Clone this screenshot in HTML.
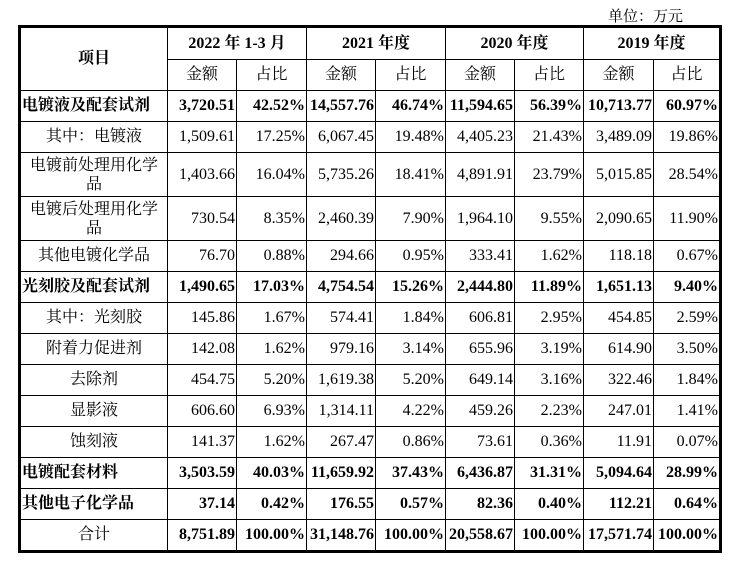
<!DOCTYPE html>
<html><head><meta charset="utf-8"><style>
body{margin:0;width:739px;height:565px;background:#fff;position:relative;font-family:"Liberation Serif","Noto Serif CJK SC",serif;color:#000;overflow:hidden}
.unit{position:absolute;left:608px;top:5px;font-size:15px}
table{position:absolute;left:18px;top:25px;border-collapse:collapse;border:3px solid #000;table-layout:fixed;font-size:16px}
td{border:1px solid #000;padding:0 1px;white-space:nowrap;line-height:18px}
td.n{text-align:right}
td.c{text-align:center}
td.l{text-align:left}
tr.b td{font-weight:bold}
td.w{text-align:center;line-height:19px}
</style></head><body>
<div class="unit">单位：万元</div>
<table>
<colgroup><col style="width:148px"><col style="width:69px"><col style="width:70px"><col style="width:69px"><col style="width:70px"><col style="width:69px"><col style="width:69px"><col style="width:70px"><col style="width:67px"></colgroup>
<tr style="height:33px" class="b"><td rowspan="2" class="c">项目</td><td colspan="2" class="c">2022 年 1-3 月</td><td colspan="2" class="c">2021 年度</td><td colspan="2" class="c">2020 年度</td><td colspan="2" class="c">2019 年度</td></tr>
<tr style="height:31px"><td class="c">金额</td><td class="c">占比</td><td class="c">金额</td><td class="c">占比</td><td class="c">金额</td><td class="c">占比</td><td class="c">金额</td><td class="c">占比</td></tr>
<tr style="height:31px" class="b"><td class="l">电镀液及配套试剂</td><td class="n">3,720.51</td><td class="n">42.52%</td><td class="n">14,557.76</td><td class="n">46.74%</td><td class="n">11,594.65</td><td class="n">56.39%</td><td class="n">10,713.77</td><td class="n">60.97%</td></tr>
<tr style="height:31px"><td class="c">其中：电镀液</td><td class="n">1,509.61</td><td class="n">17.25%</td><td class="n">6,067.45</td><td class="n">19.48%</td><td class="n">4,405.23</td><td class="n">21.43%</td><td class="n">3,489.09</td><td class="n">19.86%</td></tr>
<tr style="height:44px"><td class="w">电镀前处理用化学<br>品</td><td class="n">1,403.66</td><td class="n">16.04%</td><td class="n">5,735.26</td><td class="n">18.41%</td><td class="n">4,891.91</td><td class="n">23.79%</td><td class="n">5,015.85</td><td class="n">28.54%</td></tr>
<tr style="height:44px"><td class="w">电镀后处理用化学<br>品</td><td class="n">730.54</td><td class="n">8.35%</td><td class="n">2,460.39</td><td class="n">7.90%</td><td class="n">1,964.10</td><td class="n">9.55%</td><td class="n">2,090.65</td><td class="n">11.90%</td></tr>
<tr style="height:31px"><td class="c">其他电镀化学品</td><td class="n">76.70</td><td class="n">0.88%</td><td class="n">294.66</td><td class="n">0.95%</td><td class="n">333.41</td><td class="n">1.62%</td><td class="n">118.18</td><td class="n">0.67%</td></tr>
<tr style="height:31px" class="b"><td class="l">光刻胶及配套试剂</td><td class="n">1,490.65</td><td class="n">17.03%</td><td class="n">4,754.54</td><td class="n">15.26%</td><td class="n">2,444.80</td><td class="n">11.89%</td><td class="n">1,651.13</td><td class="n">9.40%</td></tr>
<tr style="height:31px"><td class="c">其中：光刻胶</td><td class="n">145.86</td><td class="n">1.67%</td><td class="n">574.41</td><td class="n">1.84%</td><td class="n">606.81</td><td class="n">2.95%</td><td class="n">454.85</td><td class="n">2.59%</td></tr>
<tr style="height:31px"><td class="c">附着力促进剂</td><td class="n">142.08</td><td class="n">1.62%</td><td class="n">979.16</td><td class="n">3.14%</td><td class="n">655.96</td><td class="n">3.19%</td><td class="n">614.90</td><td class="n">3.50%</td></tr>
<tr style="height:31px"><td class="c">去除剂</td><td class="n">454.75</td><td class="n">5.20%</td><td class="n">1,619.38</td><td class="n">5.20%</td><td class="n">649.14</td><td class="n">3.16%</td><td class="n">322.46</td><td class="n">1.84%</td></tr>
<tr style="height:31px"><td class="c">显影液</td><td class="n">606.60</td><td class="n">6.93%</td><td class="n">1,314.11</td><td class="n">4.22%</td><td class="n">459.26</td><td class="n">2.23%</td><td class="n">247.01</td><td class="n">1.41%</td></tr>
<tr style="height:31px"><td class="c">蚀刻液</td><td class="n">141.37</td><td class="n">1.62%</td><td class="n">267.47</td><td class="n">0.86%</td><td class="n">73.61</td><td class="n">0.36%</td><td class="n">11.91</td><td class="n">0.07%</td></tr>
<tr style="height:31px" class="b"><td class="l">电镀配套材料</td><td class="n">3,503.59</td><td class="n">40.03%</td><td class="n">11,659.92</td><td class="n">37.43%</td><td class="n">6,436.87</td><td class="n">31.31%</td><td class="n">5,094.64</td><td class="n">28.99%</td></tr>
<tr style="height:31px" class="b"><td class="l">其他电子化学品</td><td class="n">37.14</td><td class="n">0.42%</td><td class="n">176.55</td><td class="n">0.57%</td><td class="n">82.36</td><td class="n">0.40%</td><td class="n">112.21</td><td class="n">0.64%</td></tr>
<tr style="height:32px" class="b"><td class="c" style="font-weight:normal">合计</td><td class="n">8,751.89</td><td class="n">100.00%</td><td class="n">31,148.76</td><td class="n">100.00%</td><td class="n">20,558.67</td><td class="n">100.00%</td><td class="n">17,571.74</td><td class="n">100.00%</td></tr>
</table>
</body></html>
